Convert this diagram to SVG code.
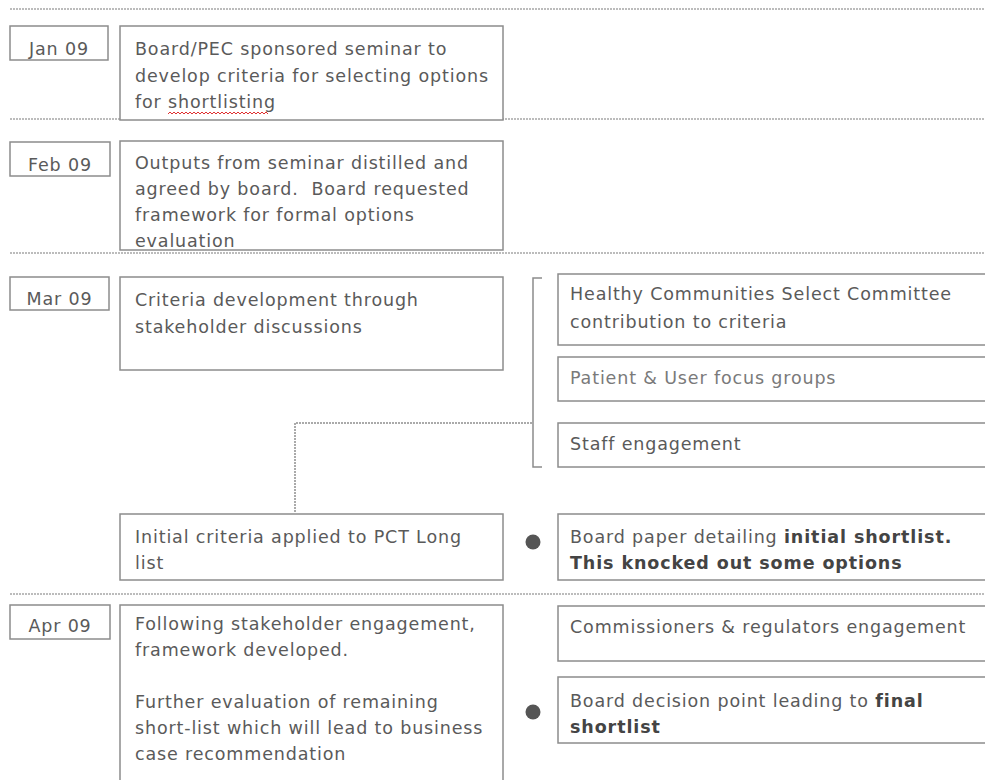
<svg xmlns="http://www.w3.org/2000/svg" width="985" height="780" viewBox="0 0 985 780">
<style>
.bg{fill:#ffffff}
.box{fill:#ffffff;stroke:#8c8c8c;stroke-width:1.5}
.sep{stroke:#a6a6a6;stroke-width:1.3;stroke-dasharray:2 1;fill:none}
.con{stroke:#8f8f8f;stroke-width:1.5;stroke-dasharray:2 1;fill:none}
.brk{stroke:#8c8c8c;stroke-width:1.5;fill:none}
text{font-family:"DejaVu Sans",Verdana,sans-serif;font-size:17.5px;fill:#5a5a5a;letter-spacing:0.85px;white-space:pre}
.b{font-weight:bold;fill:#444444;letter-spacing:0.9px}
.date{text-anchor:middle}
.dot{fill:#555555}
</style>
<rect class="bg" x="0" y="0" width="985" height="780"/>
<g id="separators">
<line class="sep" x1="10" y1="9" x2="985" y2="9"/>
<line class="sep" x1="10" y1="119" x2="985" y2="119"/>
<line class="sep" x1="10" y1="253" x2="985" y2="253"/>
<line class="sep" x1="10" y1="594" x2="985" y2="594"/>
</g>
<g id="connectors">
<path class="con" d="M295,512 V423 H533"/>
<path class="brk" d="M542,278 H533 V467 H542"/>
</g>
<g id="jan-date"><rect class="box" x="10" y="26" width="98" height="34"/><text class="date" x="59" y="55">Jan 09</text></g>
<g id="jan-text"><rect class="box" x="120" y="26" width="383" height="94"/>
<text x="135" y="55">Board/PEC sponsored seminar to</text>
<text x="135" y="82">develop criteria for selecting options</text>
<text x="135" y="108">for shortlisting</text>
<path d="M168,114 l2,-2 l2,2 l2,-2 l2,2 l2,-2 l2,2 l2,-2 l2,2 l2,-2 l2,2 l2,-2 l2,2 l2,-2 l2,2 l2,-2 l2,2 l2,-2 l2,2 l2,-2 l2,2 l2,-2 l2,2 l2,-2 l2,2 l2,-2 l2,2 l2,-2 l2,2 l2,-2 l2,2 l2,-2 l2,2 l2,-2 l2,2 l2,-2 l2,2 l2,-2 l2,2 l2,-2 l2,2 l2,-2 l2,2 l2,-2 l2,2 l2,-2 l2,2 l2,-2 l2,2 l2,-2 l2,2" fill="none" stroke="#e03030" stroke-width="1"/>
</g>
<g id="feb-date"><rect class="box" x="10" y="142" width="100" height="34"/><text class="date" x="60" y="171">Feb 09</text></g>
<g id="feb-text"><rect class="box" x="120" y="141" width="383" height="109"/>
<text x="135" y="169">Outputs from seminar distilled and</text>
<text x="135" y="195" xml:space="preserve">agreed by board.  Board requested</text>
<text x="135" y="221">framework for formal options</text>
<text x="135" y="247">evaluation</text>
</g>
<g id="mar-date"><rect class="box" x="10" y="277" width="99" height="33"/><text class="date" x="59.5" y="305">Mar 09</text></g>
<g id="mar-text"><rect class="box" x="120" y="277" width="383" height="93"/>
<text x="135" y="306">Criteria development through</text>
<text x="135" y="333">stakeholder discussions</text>
</g>
<g id="hcsc"><rect class="box" x="558" y="274" width="440" height="71"/>
<text x="570" y="300">Healthy Communities Select Committee</text>
<text x="570" y="328">contribution to criteria</text>
</g>
<g id="patient"><rect class="box" x="558" y="357" width="440" height="44"/>
<text x="570" y="384" style="fill:#7a7a7a">Patient &amp; User focus groups</text>
</g>
<g id="staff"><rect class="box" x="558" y="423" width="440" height="44"/>
<text x="570" y="450">Staff engagement</text>
</g>
<g id="initial"><rect class="box" x="120" y="514" width="383" height="66"/>
<text x="135" y="543">Initial criteria applied to PCT Long</text>
<text x="135" y="569">list</text>
</g>
<g id="dot1"><circle class="dot" cx="533" cy="542" r="7.5"/></g>
<g id="board-paper"><rect class="box" x="558" y="514" width="440" height="66"/>
<text x="570" y="543">Board paper detailing <tspan class="b">initial shortlist.</tspan></text>
<text x="570" y="569" class="b">This knocked out some options</text>
</g>
<g id="apr-date"><rect class="box" x="10" y="605" width="100" height="34"/><text class="date" x="60" y="632">Apr 09</text></g>
<g id="apr-text"><rect class="box" x="120" y="605" width="383" height="200"/>
<text x="135" y="630">Following stakeholder engagement,</text>
<text x="135" y="656">framework developed.</text>
<text x="135" y="708">Further evaluation of remaining</text>
<text x="135" y="734">short-list which will lead to business</text>
<text x="135" y="760">case recommendation</text>
</g>
<g id="commissioners"><rect class="box" x="558" y="606" width="440" height="55"/>
<text x="570" y="633">Commissioners &amp; regulators engagement</text>
</g>
<g id="dot2"><circle class="dot" cx="533" cy="712" r="7.5"/></g>
<g id="board-decision"><rect class="box" x="558" y="677" width="440" height="66"/>
<text x="570" y="707">Board decision point leading to <tspan class="b">final</tspan></text>
<text x="570" y="733" class="b">shortlist</text>
</g>
</svg>
